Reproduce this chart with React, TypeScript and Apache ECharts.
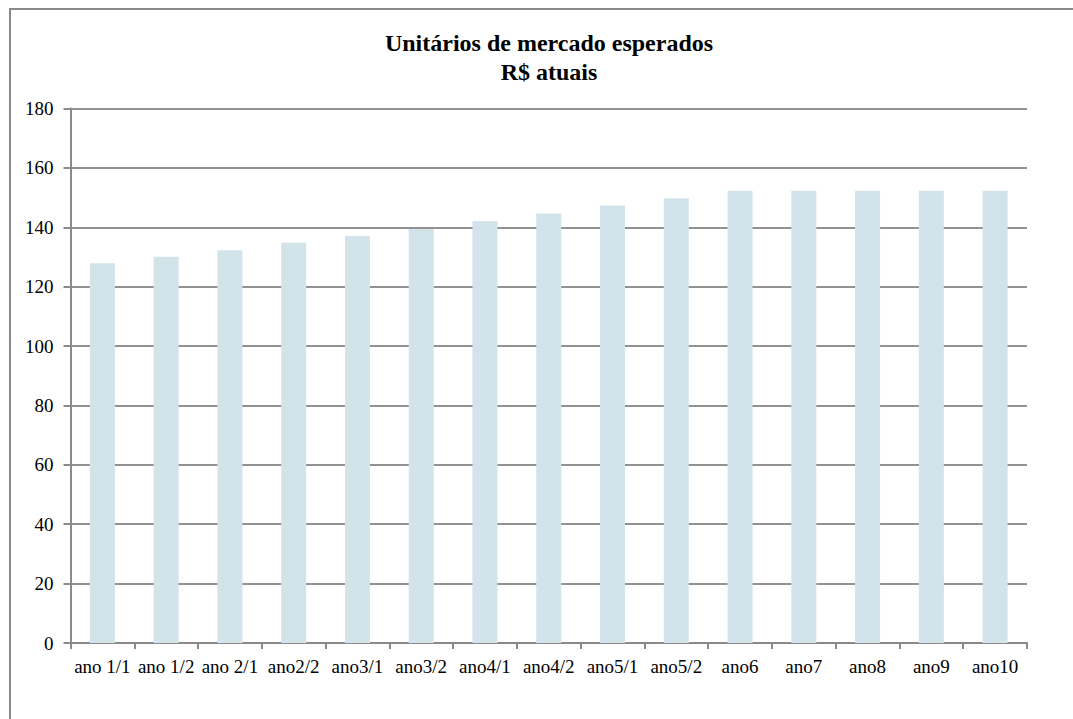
import React, { useEffect, useRef } from "react";
import * as echarts from "echarts";

const categories = [
  "ano 1/1", "ano 1/2", "ano 2/1", "ano2/2", "ano3/1", "ano3/2", "ano4/1", "ano4/2",
  "ano5/1", "ano5/2", "ano6", "ano7", "ano8", "ano9", "ano10",
];
const values = [127.9, 130.1, 132.3, 134.8, 137.1, 139.4, 142.1, 144.6, 147.3, 149.8, 152.3, 152.3, 152.3, 152.3, 152.3];
const titleLines = ["Unitários de mercado esperados", "R$ atuais"];
const yMin = 0;
const yMax = 180;
const yStep = 20;

const FONT = "Liberation Serif";

export default function App() {
  const ref = useRef<HTMLDivElement>(null);
  useEffect(() => {
    if (!ref.current) return;
    const chart = echarts.init(ref.current, undefined, { renderer: "svg" });
    chart.setOption({
      animation: false,
      backgroundColor: "#ffffff",
      textStyle: { fontFamily: FONT },
      graphic: [
        {
          type: "rect",
          shape: { x: 10, y: 9, width: 1200, height: 900 },
          style: { fill: "none", stroke: "#8a8a8a", lineWidth: 2 },
          silent: true,
        },
        {
          type: "text",
          x: 549,
          y: 28,
          style: {
            text: titleLines.join("\n"),
            align: "center",
            verticalAlign: "top",
            fontFamily: FONT,
            fontSize: 24,
            fontWeight: "bold",
            lineHeight: 29,
            fill: "#000000",
          },
        },
      ],
      grid: { left: 70.5, right: 46, top: 108.5, bottom: 76, containLabel: false },
      xAxis: {
        type: "category",
        data: categories,
        axisLine: { lineStyle: { color: "#8a8a8a", width: 2 } },
        axisTick: { show: true, length: 6, lineStyle: { color: "#8a8a8a", width: 2 } },
        axisLabel: { color: "#000", fontSize: 19, fontFamily: FONT, margin: 14, interval: 0 },
      },
      yAxis: {
        type: "value",
        min: yMin,
        max: yMax,
        interval: yStep,
        axisLine: { show: true, lineStyle: { color: "#8a8a8a", width: 2 } },
        axisTick: { show: true, length: 7, lineStyle: { color: "#8a8a8a", width: 2 } },
        axisLabel: { color: "#000", fontSize: 19, fontFamily: FONT, margin: 17 },
        splitLine: { show: true, lineStyle: { color: "#929292", width: 2 } },
      },
      series: [
        {
          type: "bar",
          data: values,
          barWidth: 25,
          itemStyle: { color: "#d2e3ea" },
        },
      ],
    });
    return () => chart.dispose();
  }, []);
  return (
    <div
      ref={ref}
      style={{ position: "fixed", left: 0, top: 0, width: 1073, height: 719 }}
    />
  );
}
